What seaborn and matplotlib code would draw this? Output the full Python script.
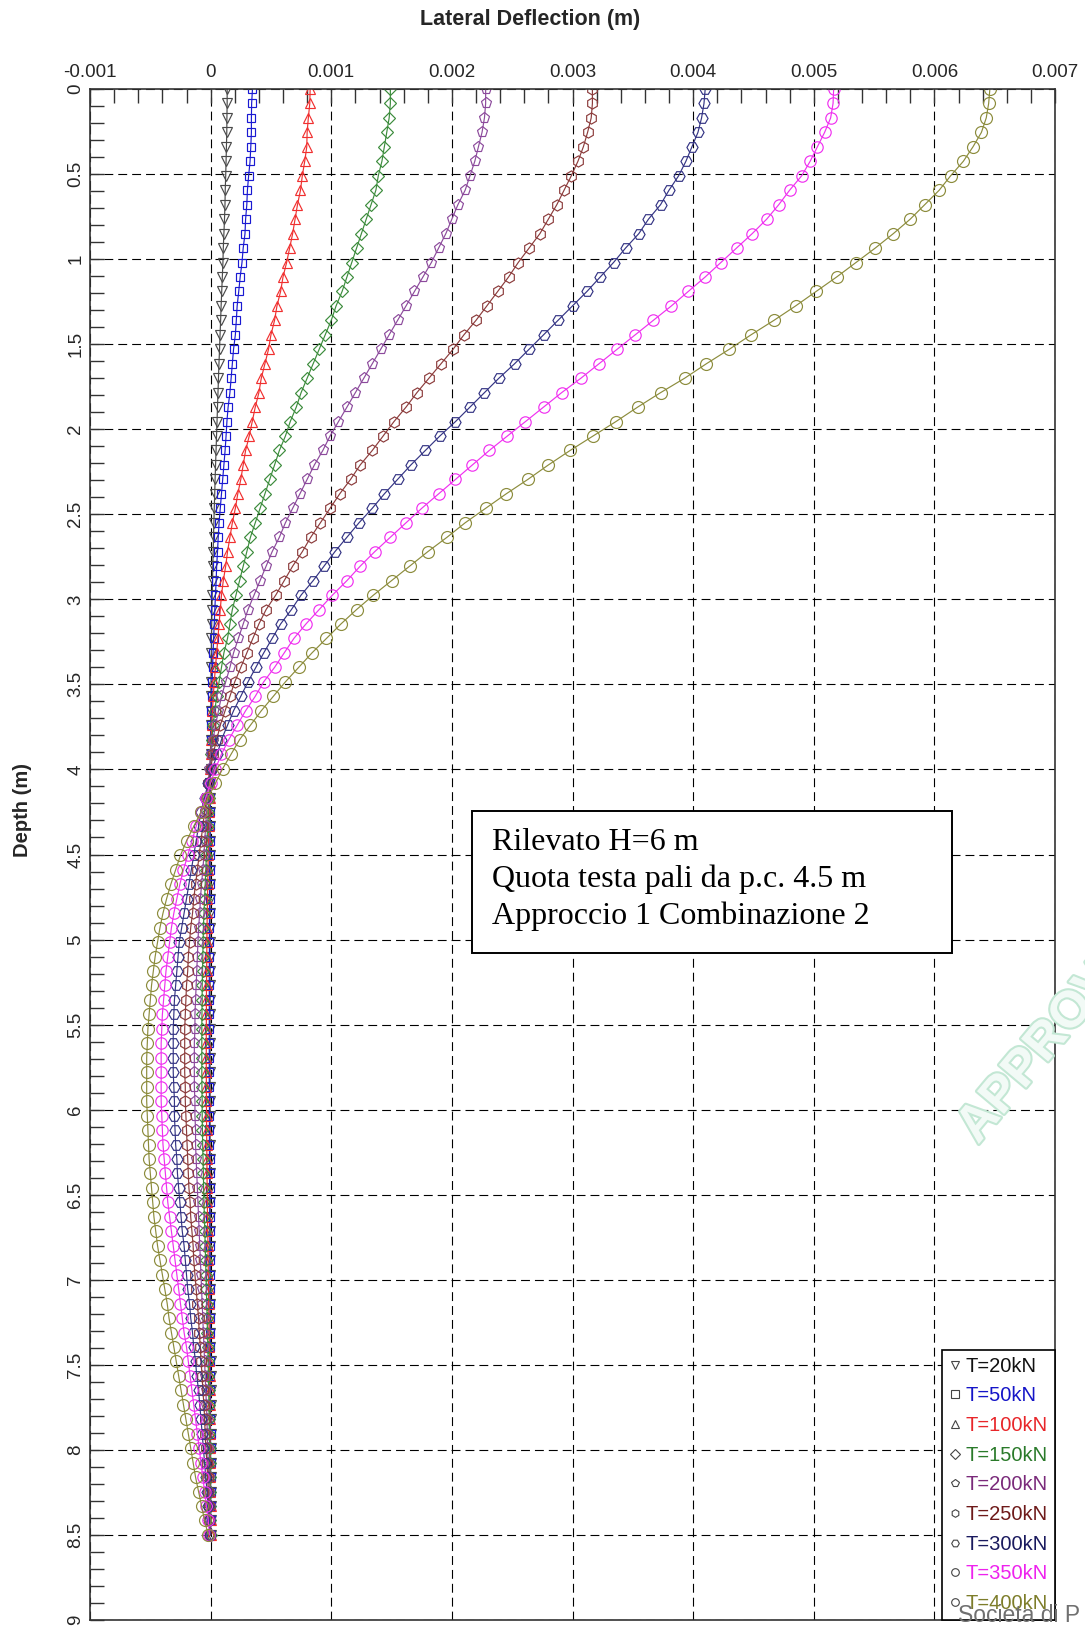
import numpy as np
import matplotlib
matplotlib.use("Agg")
import matplotlib.pyplot as plt
import matplotlib.patheffects as pe
import seaborn as sns
from matplotlib.lines import Line2D
from matplotlib.patches import Rectangle
from matplotlib.ticker import MultipleLocator, FixedLocator, FixedFormatter

# ---------------- data (deflection in mm) ----------------
load_labels = ["T=20kN", "T=50kN", "T=100kN", "T=150kN", "T=200kN",
               "T=250kN", "T=300kN", "T=350kN", "T=400kN"]

# 101 nodes along the pile, 0 .. 8.5 m
depth_m = np.linspace(0.0, 8.5, 101)

T20_mm = [0.137, 0.137, 0.135, 0.134, 0.131, 0.128, 0.125, 0.121, 0.119, 0.115,
          0.11, 0.105, 0.102, 0.097, 0.092, 0.087, 0.083, 0.078, 0.074, 0.069,
          0.065, 0.061, 0.057, 0.053, 0.049, 0.045, 0.041, 0.037, 0.034, 0.03,
          0.027, 0.024, 0.021, 0.018, 0.016, 0.013, 0.011, 0.009, 0.007, 0.006,
          0.004, 0.003, 0.002, 0.001, 0.0, 0.0, -0.001, -0.001, -0.002, -0.002,
          -0.002, -0.003, -0.003, -0.003, -0.003, -0.004, -0.004, -0.004, -0.004, -0.004,
          -0.004, -0.004, -0.004, -0.004, -0.004, -0.004, -0.004, -0.004, -0.004, -0.004,
          -0.004, -0.004, -0.004, -0.004, -0.004, -0.003, -0.003, -0.003, -0.003, -0.003,
          -0.003, -0.003, -0.002, -0.002, -0.002, -0.002, -0.002, -0.002, -0.001, -0.001,
          -0.001, -0.001, -0.001, -0.001, -0.001, 0.0, 0.0, 0.0, 0.0, 0.0,
          0.0]

T50_mm = [0.347, 0.34, 0.338, 0.338, 0.333, 0.327, 0.315, 0.305, 0.30, 0.29,
          0.285, 0.27, 0.26, 0.245, 0.233, 0.22, 0.213, 0.205, 0.19, 0.18,
          0.17, 0.16, 0.145, 0.135, 0.128, 0.12, 0.11, 0.10, 0.09, 0.08,
          0.07, 0.063, 0.057, 0.05, 0.046, 0.04, 0.035, 0.03, 0.025, 0.02,
          0.016, 0.012, 0.009, 0.006, 0.004, 0.002, 0.0, -0.001, -0.002, -0.003,
          -0.004, -0.005, -0.006, -0.007, -0.008, -0.008, -0.009, -0.009, -0.01, -0.01,
          -0.01, -0.011, -0.011, -0.011, -0.011, -0.011, -0.011, -0.011, -0.011, -0.011,
          -0.01, -0.01, -0.01, -0.01, -0.009, -0.009, -0.008, -0.008, -0.007, -0.007,
          -0.006, -0.006, -0.005, -0.005, -0.005, -0.004, -0.004, -0.003, -0.003, -0.003,
          -0.002, -0.002, -0.002, -0.001, -0.001, -0.001, -0.001, 0.0, 0.0, 0.0,
          0.0]

T100_mm = [0.825, 0.822, 0.81, 0.80, 0.797, 0.78, 0.76, 0.745, 0.72, 0.70,
           0.68, 0.655, 0.63, 0.60, 0.58, 0.55, 0.53, 0.50, 0.48, 0.45,
           0.42, 0.40, 0.37, 0.345, 0.32, 0.29, 0.27, 0.25, 0.225, 0.205,
           0.18, 0.16, 0.14, 0.125, 0.105, 0.09, 0.08, 0.07, 0.06, 0.05,
           0.04, 0.03, 0.022, 0.015, 0.01, 0.005, 0.0, -0.003, -0.006, -0.009,
           -0.012, -0.015, -0.018, -0.02, -0.022, -0.024, -0.026, -0.028, -0.03, -0.031,
           -0.032, -0.033, -0.034, -0.035, -0.035, -0.036, -0.036, -0.036, -0.036, -0.035,
           -0.035, -0.034, -0.033, -0.032, -0.031, -0.03, -0.029, -0.027, -0.026, -0.024,
           -0.022, -0.021, -0.019, -0.017, -0.016, -0.014, -0.013, -0.011, -0.01, -0.009,
           -0.008, -0.007, -0.006, -0.005, -0.004, -0.003, -0.003, -0.002, -0.001, -0.001,
           0.0]

T150_mm = [1.49, 1.49, 1.48, 1.46, 1.44, 1.42, 1.39, 1.37, 1.33, 1.29,
           1.25, 1.21, 1.17, 1.13, 1.09, 1.04, 1.00, 0.95, 0.90, 0.85,
           0.80, 0.75, 0.71, 0.66, 0.62, 0.57, 0.53, 0.49, 0.45, 0.41,
           0.37, 0.33, 0.30, 0.27, 0.24, 0.21, 0.18, 0.16, 0.14, 0.11,
           0.09, 0.07, 0.05, 0.035, 0.02, 0.01, 0.0, -0.005, -0.01, -0.015,
           -0.02, -0.025, -0.03, -0.035, -0.04, -0.045, -0.05, -0.055, -0.06, -0.062,
           -0.065, -0.067, -0.07, -0.07, -0.072, -0.073, -0.073, -0.073, -0.073, -0.072,
           -0.07, -0.07, -0.068, -0.066, -0.063, -0.06, -0.058, -0.055, -0.052, -0.048,
           -0.045, -0.042, -0.038, -0.035, -0.032, -0.029, -0.026, -0.023, -0.02, -0.018,
           -0.016, -0.014, -0.012, -0.01, -0.009, -0.007, -0.006, -0.004, -0.003, -0.002,
           -0.001]

T200_mm = [2.28, 2.28, 2.27, 2.25, 2.22, 2.19, 2.15, 2.11, 2.05, 2.00,
           1.95, 1.89, 1.83, 1.76, 1.69, 1.62, 1.55, 1.48, 1.41, 1.34,
           1.27, 1.20, 1.13, 1.06, 0.99, 0.93, 0.86, 0.80, 0.74, 0.68,
           0.62, 0.57, 0.51, 0.46, 0.41, 0.36, 0.31, 0.27, 0.23, 0.19,
           0.16, 0.125, 0.09, 0.065, 0.04, 0.02, 0.0, -0.01, -0.02, -0.03,
           -0.035, -0.04, -0.05, -0.055, -0.065, -0.075, -0.085, -0.09, -0.10, -0.105,
           -0.11, -0.115, -0.12, -0.125, -0.13, -0.13, -0.135, -0.135, -0.135, -0.135,
           -0.13, -0.13, -0.125, -0.125, -0.12, -0.115, -0.11, -0.105, -0.10, -0.095,
           -0.09, -0.085, -0.08, -0.075, -0.07, -0.065, -0.06, -0.055, -0.05, -0.045,
           -0.04, -0.035, -0.03, -0.028, -0.025, -0.02, -0.015, -0.012, -0.008, -0.005,
           -0.002]

T250_mm = [3.165, 3.165, 3.155, 3.125, 3.09, 3.045, 2.99, 2.93, 2.87, 2.80,
           2.73, 2.64, 2.55, 2.47, 2.38, 2.29, 2.20, 2.10, 2.01, 1.91,
           1.81, 1.71, 1.62, 1.52, 1.43, 1.34, 1.24, 1.16, 1.07, 0.99,
           0.91, 0.83, 0.76, 0.68, 0.61, 0.54, 0.46, 0.40, 0.35, 0.30,
           0.25, 0.20, 0.16, 0.12, 0.08, 0.05, 0.02, 0.00, -0.02, -0.035,
           -0.05, -0.065, -0.08, -0.095, -0.11, -0.125, -0.14, -0.15, -0.165, -0.175,
           -0.185, -0.19, -0.20, -0.205, -0.21, -0.215, -0.215, -0.215, -0.215, -0.21,
           -0.21, -0.205, -0.20, -0.195, -0.19, -0.185, -0.18, -0.17, -0.165, -0.155,
           -0.145, -0.14, -0.13, -0.12, -0.11, -0.10, -0.095, -0.085, -0.08, -0.07,
           -0.065, -0.055, -0.05, -0.045, -0.04, -0.03, -0.025, -0.02, -0.015, -0.01,
           -0.005]

T300_mm = [4.10, 4.09, 4.07, 4.04, 3.99, 3.94, 3.88, 3.80, 3.73, 3.63,
           3.55, 3.44, 3.34, 3.23, 3.12, 3.00, 2.88, 2.76, 2.64, 2.52,
           2.39, 2.27, 2.15, 2.03, 1.90, 1.78, 1.66, 1.55, 1.44, 1.34,
           1.23, 1.13, 1.03, 0.94, 0.85, 0.75, 0.67, 0.58, 0.51, 0.44,
           0.375, 0.31, 0.25, 0.19, 0.14, 0.09, 0.055, 0.015, -0.02, -0.05,
           -0.08, -0.10, -0.12, -0.14, -0.16, -0.18, -0.20, -0.22, -0.24, -0.26,
           -0.27, -0.28, -0.29, -0.30, -0.305, -0.31, -0.31, -0.31, -0.31, -0.305,
           -0.30, -0.30, -0.295, -0.29, -0.28, -0.275, -0.265, -0.255, -0.245, -0.235,
           -0.22, -0.21, -0.20, -0.19, -0.175, -0.165, -0.15, -0.14, -0.125, -0.115,
           -0.10, -0.09, -0.08, -0.07, -0.06, -0.05, -0.04, -0.03, -0.02, -0.01,
           -0.005]

T350_mm = [5.165, 5.16, 5.14, 5.09, 5.03, 4.97, 4.90, 4.80, 4.71, 4.61,
           4.49, 4.36, 4.23, 4.10, 3.96, 3.82, 3.67, 3.52, 3.37, 3.22,
           3.07, 2.91, 2.76, 2.61, 2.46, 2.31, 2.17, 2.03, 1.89, 1.75,
           1.62, 1.49, 1.36, 1.24, 1.13, 1.01, 0.90, 0.79, 0.69, 0.61,
           0.53, 0.44, 0.37, 0.29, 0.22, 0.15, 0.09, 0.04, 0.00, -0.04,
           -0.08, -0.12, -0.155, -0.19, -0.225, -0.255, -0.28, -0.305, -0.325, -0.34,
           -0.355, -0.37, -0.38, -0.39, -0.40, -0.405, -0.41, -0.41, -0.41, -0.41,
           -0.41, -0.405, -0.40, -0.395, -0.385, -0.375, -0.365, -0.355, -0.34, -0.325,
           -0.31, -0.295, -0.28, -0.265, -0.25, -0.235, -0.22, -0.20, -0.185, -0.17,
           -0.155, -0.14, -0.125, -0.11, -0.095, -0.08, -0.065, -0.05, -0.035, -0.02,
           -0.01]

T400_mm = [6.46, 6.45, 6.43, 6.39, 6.32, 6.24, 6.135, 6.04, 5.92, 5.80,
           5.66, 5.51, 5.35, 5.19, 5.02, 4.85, 4.67, 4.48, 4.30, 4.11,
           3.93, 3.73, 3.54, 3.36, 3.17, 2.98, 2.80, 2.63, 2.45, 2.28,
           2.11, 1.96, 1.80, 1.65, 1.50, 1.35, 1.21, 1.08, 0.96, 0.84,
           0.73, 0.62, 0.52, 0.42, 0.33, 0.24, 0.17, 0.10, 0.04, -0.02,
           -0.08, -0.14, -0.20, -0.25, -0.29, -0.33, -0.365, -0.395, -0.42, -0.44,
           -0.46, -0.475, -0.49, -0.50, -0.51, -0.52, -0.525, -0.53, -0.53, -0.53,
           -0.53, -0.525, -0.52, -0.515, -0.51, -0.50, -0.49, -0.48, -0.47, -0.455,
           -0.44, -0.42, -0.40, -0.38, -0.36, -0.345, -0.325, -0.305, -0.285, -0.265,
           -0.245, -0.225, -0.205, -0.185, -0.165, -0.145, -0.125, -0.10, -0.075, -0.05,
           -0.02]

series_mm = [T20_mm, T50_mm, T100_mm, T150_mm, T200_mm,
             T250_mm, T300_mm, T350_mm, T400_mm]

x_ticks = [-0.001, 0.0, 0.001, 0.002, 0.003, 0.004, 0.005, 0.006, 0.007]
x_tick_labels = ["-0.001", "0", "0.001", "0.002", "0.003", "0.004", "0.005", "0.006", "0.007"]
y_ticks = [0, 0.5, 1, 1.5, 2, 2.5, 3, 3.5, 4, 4.5, 5, 5.5, 6, 6.5, 7, 7.5, 8, 8.5, 9]
y_tick_labels = ["0", "0.5", "1", "1.5", "2", "2.5", "3", "3.5", "4", "4.5", "5",
                 "5.5", "6", "6.5", "7", "7.5", "8", "8.5", "9"]

note_lines = ["Rilevato H=6 m", "Quota testa pali da p.c. 4.5 m", "Approccio 1 Combinazione 2"]

# ---------------- styles ----------------
line_colors = ["#4a4a4a", "#1a1ad2", "#f03030", "#3c8c3c", "#8c4a9c",
               "#8c3c3c", "#343484", "#f030f0", "#8c8c3c"]
text_colors = ["#111111", "#1515c8", "#e8262a", "#2a7a2a", "#7a2a7a",
               "#6e1a1a", "#1a1a5e", "#ee22ee", "#7d7d2a"]
markers = ["v", "s", "^", "D", "p", "h", "H", "o", "o"]
msizes = [6.5, 5.5, 7.0, 6.0, 8.0, 8.0, 8.0, 8.2, 8.6]

sns.set_style("white")
plt.rcParams["font.family"] = ["Liberation Sans", "DejaVu Sans"]

W, H = 1085, 1630
fig = plt.figure(figsize=(W / 100, H / 100), dpi=100)
fig.patch.set_facecolor("white")
ax = fig.add_axes([90 / W, 1 - 1620 / H, (1055 - 90) / W, (1620 - 89) / H])

for vals, c, m, ms in zip(series_mm, line_colors, markers, msizes):
    assert len(vals) == len(depth_m)
    sns.lineplot(x=np.asarray(vals) / 1000.0, y=depth_m, sort=False, estimator=None,
                 color=c, marker=m, markersize=ms, markerfacecolor="none",
                 markeredgecolor=c, markeredgewidth=0.85, linewidth=0.85,
                 ax=ax, legend=False)

ax.set_xlim(-0.001, 0.007)
ax.set_ylim(9, 0)
ax.set_xlabel("")
ax.set_ylabel("")

ax.xaxis.tick_top()
ax.xaxis.set_major_locator(FixedLocator(x_ticks))
ax.xaxis.set_major_formatter(FixedFormatter(x_tick_labels))
ax.xaxis.set_minor_locator(MultipleLocator(0.0002))
ax.yaxis.set_major_locator(FixedLocator(y_ticks))
ax.yaxis.set_major_formatter(FixedFormatter(y_tick_labels))
ax.yaxis.set_minor_locator(MultipleLocator(0.1))

ax.tick_params(axis="both", which="both", direction="in", length=10, width=1.0,
               color="#333333", top=True, bottom=False, left=True, right=False,
               labeltop=True, labelbottom=False)
ax.tick_params(axis="x", which="major", labelsize=13.5, pad=5.5)
ax.tick_params(axis="y", which="major", labelsize=13.5, pad=4, labelrotation=90)
for lab in ax.get_yticklabels():
    lab.set_va("center")
    lab.set_ha("right")

ax.grid(True, which="major", color="black", linestyle=(0, (8, 4.5)), linewidth=0.8)
ax.set_axisbelow(True)
for sp in ax.spines.values():
    sp.set_visible(True)
    sp.set_color("#333333")
    sp.set_linewidth(1.2)

# legend
handles = [Line2D([], [], marker=m, linestyle="none", markerfacecolor="none",
                  markeredgecolor="#444444", markeredgewidth=0.8, markersize=5.5)
           for m in markers]
leg = ax.legend(handles, load_labels, loc="lower right", bbox_to_anchor=(1.0, 0.0),
                borderaxespad=0.0, frameon=True, fancybox=False, edgecolor="black",
                fontsize=14.5, handlelength=0.6, handletextpad=0.25, borderpad=0.35,
                labelspacing=0.53, framealpha=1.0)
leg.get_frame().set_linewidth(1.2)
for t, c in zip(leg.get_texts(), text_colors):
    t.set_color(c)

# annotation box
fig.patches.append(Rectangle((472 / W, 1 - 953 / H), (952 - 472) / W, (953 - 811) / H,
                             transform=fig.transFigure, facecolor="white",
                             edgecolor="black", linewidth=1.4, zorder=5))
for i, line in enumerate(note_lines):
    fig.text(492 / W, 1 - (850 + 37 * i) / H, line, ha="left", va="baseline",
             fontsize=23, family=["Liberation Serif", "DejaVu Serif"], color="black",
             zorder=6)

# titles
fig.text(530 / W, 1 - 20 / H, "Lateral Deflection (m)", ha="center", va="center",
         fontsize=15.5, fontweight="bold")
fig.text(22 / W, 1 - 810 / H, "Depth (m)", ha="center", va="center", rotation=90,
         fontsize=14.5, fontweight="bold")

# watermark and footer fragments
fig.text(978 / W, 1 - 1145 / H, "APPROVATO", ha="left", va="baseline", rotation=50,
         rotation_mode="anchor", fontsize=37, fontweight="bold", color="#f2faf6",
         zorder=1,
         path_effects=[pe.withStroke(linewidth=3, foreground="#c3e7d4")])
fig.text(958 / W, 1 - 1622 / H, "Societa di P", ha="left", va="baseline",
         fontsize=16.5, color="#707070", zorder=7)

fig.savefig("out.png", dpi=100, facecolor="white")
